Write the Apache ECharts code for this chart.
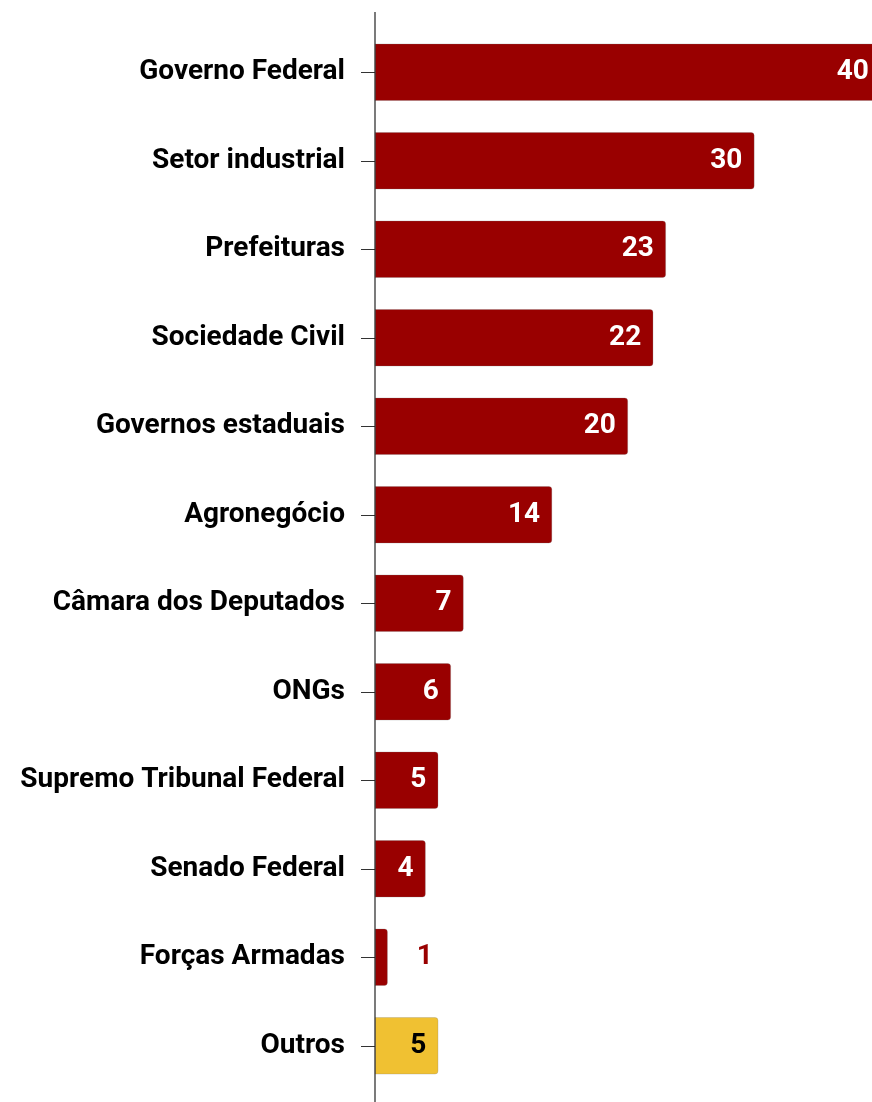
<!DOCTYPE html>
<html><head><meta charset="utf-8">
<script src="https://cdn.jsdelivr.net/npm/echarts@6/dist/echarts.min.js"></script>
<style>html,body{margin:0;padding:0;background:#fff}#c{width:872px;height:1102px}</style>
</head><body><div id="c"></div>
<script>
const categories = ["Governo Federal","Setor industrial","Prefeituras","Sociedade Civil","Governos estaduais","Agronegócio","Câmara dos Deputados","ONGs","Supremo Tribunal Federal","Senado Federal","Forças Armadas","Outros"];
const values = [40,30,23,22,20,14,7,6,5,4,1,5];
const RED = '#990000', YELLOW = '#F0C132';
const chart = echarts.init(document.getElementById('c'));
const data = values.map((v,i)=>{
  const isOther = categories[i]==='Outros';
  const small = v < 3;
  const d = {value:v, itemStyle:{color: isOther?YELLOW:RED}};
  if (isOther) d.label = {color:'#000'};
  if (small) d.label = {position:'right', distance:29, color:RED, textBorderColor:'#fff', textBorderWidth:3};
  return d;
});
chart.setOption({
  animation:false,
  grid:{left:375, right:0, top:28, bottom:12, containLabel:false},
  xAxis:{type:'value', min:0, max:39.3, show:false},
  yAxis:{type:'category', data:categories, inverse:true,
    axisLine:{show:false},
    axisTick:{show:true, alignWithLabel:true, length:14, lineStyle:{color:'#333'}},
    axisLabel:{margin:30, color:'#000', fontFamily:'Roboto', fontWeight:'bold', fontSize:28, padding:[5,0,0,0]}},
  series:[{type:'bar', data:data, barWidth:57, clip:false,
    itemStyle:{borderRadius:[0,3,3,0], borderColor:'rgba(120,120,120,0.5)', borderWidth:0.5},
    label:{show:true, position:'insideRight', distance:12, color:'#fff', fontFamily:'Roboto', fontWeight:'bold', fontSize:28, padding:[5,0,0,0]}}],
  graphic:[{type:'line', shape:{x1:375, y1:12, x2:375, y2:1102}, style:{stroke:'#222', lineWidth:1.2}, z:10}]
});
</script></body></html>
